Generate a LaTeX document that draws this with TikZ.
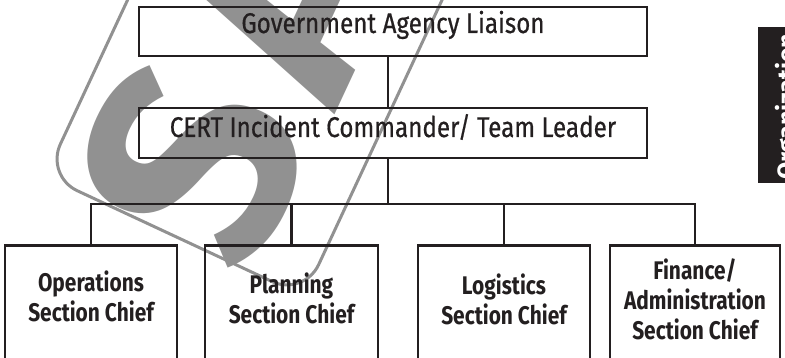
\documentclass[tikz,border=0pt]{standalone}
\usepackage{fontspec}
\setmainfont{Fira Sans}
\newfontfamily\condfont[FakeStretch=0.85,FakeBold=0.6]{Fira Sans}
\newfontfamily\boldcond[FakeStretch=0.82]{Fira Sans}
\newfontfamily\wmfont{Fira Sans}
\definecolor{ink}{HTML}{231F20}
\definecolor{wm}{RGB}{145,145,145}
\begin{document}
\begin{tikzpicture}[x=1pt,y=-1pt,
  box/.style={draw=ink, line width=2.8pt, inner sep=0pt},
  conn/.style={draw=ink, line width=2.8pt},
  toptext/.style={font=\condfont\fontsize{28.5}{30}\selectfont, text=ink},
  btext/.style={font=\boldcond\bfseries\fontsize{25.5}{30}\selectfont, text=ink, align=center, inner sep=0pt},
  wmletter/.style={text=wm, rotate=65, inner sep=0pt, font=\wmfont\bfseries\fontsize{290}{290}\selectfont}]
\useasboundingbox (0,0) rectangle (785,358);
\clip (0,0) rectangle (785,358);
% watermark
\node[draw=wm, line width=3pt, rotate=65, minimum width=1000, minimum height=285, rounded corners=35, inner sep=0pt] (stamp) at (386,-217) {};
\node[wmletter] (wmS) at (192,163) {S};
\node[wmletter] (wmA) at (282,-8) {A};
% top boxes
\node[box, toptext, minimum width=508, minimum height=49, text height=20, text depth=17] (gov) at (393,31.5) {Government Agency Liaison};
\node[box, toptext, minimum width=508, minimum height=50, text height=20, text depth=12] (cert) at (393,133) {CERT Incident Commander/ Team Leader};
% bottom boxes
\node[box, minimum width=172, minimum height=140, anchor=north] (ops) at (91,244) {};
\node[box, minimum width=173, minimum height=140, anchor=north] (plan) at (291.5,244) {};
\node[box, minimum width=172, minimum height=140, anchor=north] (log) at (504,244) {};
\node[box, minimum width=170, minimum height=140, anchor=north] (fin) at (695,244) {};
\node[btext] (opst) at (91,296) {Operations\\Section Chief};
\node[btext] (plant) at (291.5,298) {Planning\\Section Chief};
\node[btext] (logt) at (504,299.5) {Logistics\\Section Chief};
\node[btext] (fint) at (695,299) {Finance/\\Administration\\Section Chief};
% connectors
\coordinate (bus) at (388,204);
\draw[conn] (gov.south -| bus) -- (cert.north -| bus);
\draw[conn] (cert.south -| bus) -- (bus);
\draw[conn] (ops.north) |- (bus) -| (fin.north);
\draw[conn] (plan.north) -- (plan.north |- bus);
\draw[conn] (log.north) -- (log.north |- bus);
% side tab
\node[fill=ink, minimum width=32, minimum height=156, inner sep=0pt, anchor=north west] (tab) at (758,27) {};
\node[rotate=90, anchor=base west, text=white, inner sep=0pt, font=\wmfont\bfseries\fontsize{25}{25}\selectfont] (orgt) at (795,180) {Organization};
\end{tikzpicture}
\end{document}
